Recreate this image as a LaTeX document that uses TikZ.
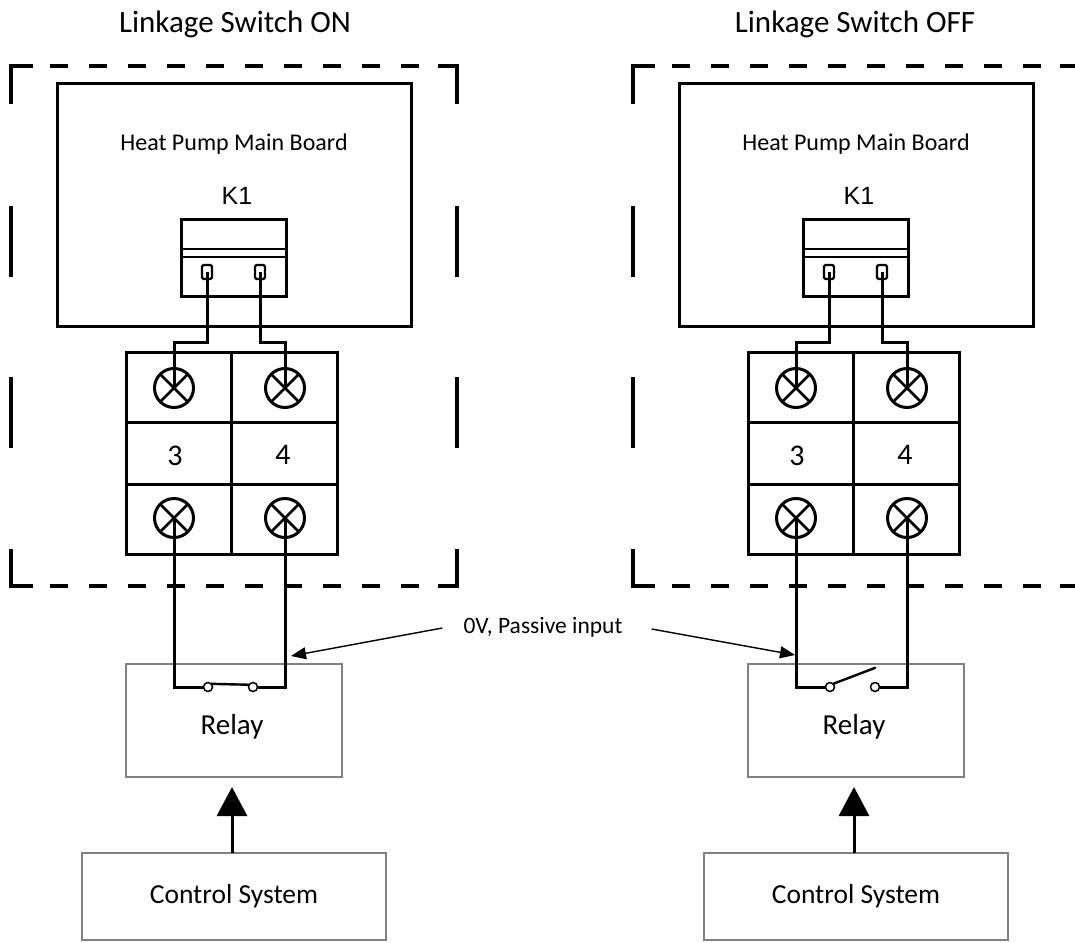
\documentclass[tikz,border=0pt]{standalone}
\usepackage{fontspec}
\setmainfont{Carlito}
\newfontfamily\arialfont{Liberation Sans}
\usetikzlibrary{arrows.meta}
\begin{document}
\begin{tikzpicture}[x=1pt,y=-1pt,
  wire/.style={line width=3pt, line cap=butt, line join=miter},
  framestyle/.style={line width=3.6pt, line cap=butt},
  boardbox/.style={draw, line width=3pt, rectangle, inner sep=0pt, outer sep=0pt},
  pinbox/.style={draw, line width=2.4pt, rectangle, rounded corners=1.5pt, minimum width=10pt, minimum height=14pt, inner sep=0pt, outer sep=0pt},
  termcirc/.style={draw, circle, line width=3pt, minimum size=39pt, inner sep=0pt, outer sep=0pt},
  contact/.style={draw, circle, fill=white, line width=1.5pt, minimum size=9pt, inner sep=0pt, outer sep=0pt},
  graybox/.style={draw=black!50, line width=1.6pt, rectangle, inner sep=0pt, outer sep=0pt},
  blade/.style={line width=2.4pt, line cap=round},
  titletext/.style={font=\fontsize{31}{37}\selectfont, inner sep=0pt},
  boardtext/.style={font=\fontsize{24}{28}\selectfont, inner sep=0pt},
  ktext/.style={font=\arialfont\fontsize{25}{30}\selectfont, inner sep=0pt},
  digittext/.style={font=\fontsize{30}{36}\selectfont, inner sep=0pt},
  relaytext/.style={font=\fontsize{29}{34}\selectfont, inner sep=0pt},
  ctrltext/.style={font=\fontsize{27.5}{32}\selectfont},
  labeltext/.style={font=\fontsize{23.5}{28}\selectfont, inner sep=0pt},
  bigarrow/.style={line width=3pt, -{Triangle[width=30pt,length=29pt]}, shorten >=10pt},
  thinarrow/.style={line width=1.4pt, -{Triangle[width=12pt,length=15pt]}}
]
\useasboundingbox (0,0) rectangle (1075,942);
\fill[white] (0,0) rectangle (1075,942);

% titles
\node[titletext] (titleL) at (235,24) {Linkage Switch ON};
\node[titletext] (titleR) at (855,24) {Linkage Switch OFF};

\foreach \s/\dx/\on in {L/0/1,R/622/0}{
\begin{scope}[xshift=\dx pt]
  % dashed frame
  \draw[framestyle] (11,104) -- (11,66) -- (33,66);
  \draw[framestyle] (438,66) -- (457,66) -- (457,104);
  \draw[framestyle] (11,549) -- (11,586) -- (33,586);
  \draw[framestyle] (438,586) -- (457,586) -- (457,549);
  \draw[framestyle, dash pattern=on 18pt off 21pt] (50,66) -- (419,66);
  \draw[framestyle, dash pattern=on 18pt off 21pt] (50,586) -- (419,586);
  \draw[framestyle, dash pattern=on 71pt off 100pt] (11,206) -- (11,449);
  \draw[framestyle, dash pattern=on 71pt off 100pt] (457,206) -- (457,449);

  % main board
  \node[boardbox, minimum width=354pt, minimum height=243pt] (board\s) at (234,204.5) {};
  \node[boardtext] (boardtxt\s) at (234,144) {Heat Pump Main Board};
  \node[ktext] (k1txt\s) at (237,196) {K1};
  \node[boardbox, minimum width=105pt, minimum height=77pt] (k1\s) at (234,258) {};
  \draw[line width=2.6pt] (181.5,249) -- (286.5,249);
  \draw[line width=2.6pt] (181.5,257) -- (286.5,257);
  \node[pinbox] (pa\s) at (207,272) {};
  \node[pinbox] (pb\s) at (260,272) {};

  % terminal block
  \node[boardbox, minimum width=211pt, minimum height=202pt] (tb\s) at (231.5,453) {};
  \draw[wire] (tb\s.north) -- (tb\s.south);
  \draw[wire] (126,422) -- (337,422);
  \draw[wire] (126,484) -- (337,484);
  \node[termcirc] (tc1\s) at (174,388) {};
  \node[termcirc] (tc2\s) at (285,388) {};
  \node[termcirc] (tc3\s) at (174,518) {};
  \node[termcirc] (tc4\s) at (285,518) {};
  \foreach \c in {tc1\s,tc2\s,tc3\s,tc4\s}{
    \draw[line width=2.6pt] (\c.45) -- (\c.225) (\c.135) -- (\c.315);
  }
  \node[digittext] (n3\s) at (175,456) {3};
  \node[digittext] (n4\s) at (283,455) {4};

  % wires from K1 to terminal block
  \draw[wire] (pa\s.center) -- ++(0,70) -| (tc1\s.center);
  \draw[wire] (pb\s.center) -- ++(0,70) -| (tc2\s.center);

  % relay
  \node[graybox, minimum width=216pt, minimum height=113pt] (relay\s) at (234,720.5) {};
  \node[relaytext] (relaytxt\s) at (232,727) {Relay};
  \node[contact] (cl\s) at (208,687) {};
  \node[contact] (cr\s) at (253,687) {};
  \draw[wire] (tc3\s.center) |- (cl\s.west);
  \draw[wire] (tc4\s.center) |- (cr\s.east);
  \ifnum\on=1
    \draw[blade] (cl\s.north east) -- (cr\s.150);
  \else
    \draw[blade] (cl\s.north east) -- ++(42,-16);
  \fi

  % control system
  \node[graybox, ctrltext, minimum width=304pt, minimum height=87pt] (ctrl\s) at (234,896.5) {Control System};
  \draw[bigarrow] ([xshift=-2pt]ctrl\s.north) -- ([xshift=-2pt]relay\s.south);
\end{scope}
}

% passive input label
\node[labeltext] (lbl) at (543,627) {0V, Passive input};
\coordinate (tipL) at (291,656);
\coordinate (tipR) at (795,655);
\draw[thinarrow] ([xshift=-21pt,yshift=-1pt]lbl.west) -- (tipL);
\draw[thinarrow] ([xshift=29pt,yshift=-2pt]lbl.east) -- (tipR);
\end{tikzpicture}
\end{document}
